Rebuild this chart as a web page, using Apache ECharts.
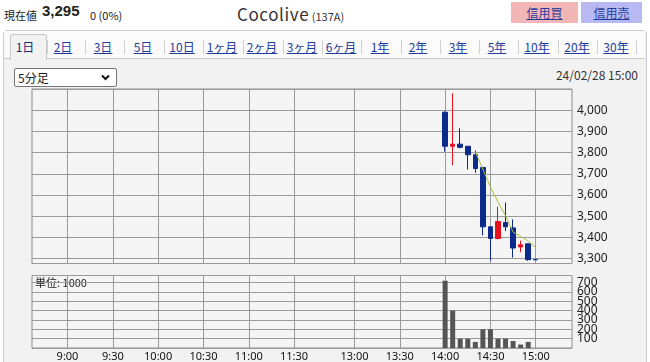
<!DOCTYPE html>
<html><head><meta charset="utf-8">
<script src="https://cdn.jsdelivr.net/npm/echarts@6/dist/echarts.min.js"></script>
<style>
html,body{margin:0;padding:0;width:650px;height:362px;overflow:hidden;background:#fff;font-family:"Noto Sans CJK JP","Noto Sans",sans-serif;color:#222;}
.a{position:absolute;white-space:nowrap;}
.btn{position:absolute;top:2px;height:21px;line-height:21px;text-align:center;font-size:12px;}
.btn span{color:#1f3c9c;text-decoration:underline;}
#panel{position:absolute;left:3px;top:30px;width:642px;height:340px;border:1px solid #c8ccd2;border-radius:4px;background:#f2f2f2;}
#tabrow{position:absolute;left:4px;top:31px;width:641px;height:27px;background:#fbfbfb;border-bottom:1px solid #c8c8c8;}
#act{position:absolute;left:10px;top:34px;width:35px;height:25px;background:#f2f2f2;border:1px solid #c8c8c8;border-bottom:none;border-radius:3px 3px 0 0;}
.tab{position:absolute;top:38px;font-size:12px;color:#1f3c9c;text-decoration:underline;transform:translateX(-50%);}
.sep{position:absolute;top:40px;width:1px;height:14px;background:#d0d0d0;}
#sel{position:absolute;left:14px;top:68px;width:101px;height:17px;background:#fff;border:1px solid #767676;border-radius:2px;font-size:12px;line-height:17px;}
#chart{position:absolute;left:0;top:0;width:650px;height:362px;}
</style></head>
<body>
<div class="a" style="left:4px;top:7px;font-size:11px;">現在値</div>
<div class="a" style="left:42px;top:2px;font-size:15px;font-weight:bold;font-family:'Liberation Sans',sans-serif;">3,295</div>
<div class="a" style="left:90px;top:7px;font-size:11px;">0 (0%)</div>
<div class="a" style="left:237px;top:1px;font-size:17px;color:#333;letter-spacing:0.6px;">Cocolive<span style="font-size:11px;letter-spacing:0;"> (137A)</span></div>
<div class="btn" style="left:511px;width:67px;background:#f3b6b6;"><span>信用買</span></div>
<div class="btn" style="left:581px;width:61px;background:#b8b8f2;"><span>信用売</span></div>
<div id="panel"></div>
<div id="tabrow"></div>
<div id="act"></div>
<div id="tabs"></div>
<div id="sel"><span style="position:absolute;left:3px;">5分足</span><svg style="position:absolute;right:6px;top:5px" width="9" height="7" viewBox="0 0 9 7"><path d="M1 1.5 L4.5 5 L8 1.5" stroke="#111" stroke-width="2" fill="none"/></svg></div>
<div class="a" style="right:12px;top:66px;font-size:12px;color:#333;">24/02/28 15:00</div>
<div id="chart"></div>
<script>
// ---- data ----
const tabLabels = ['1日','2日','3日','5日','10日','1ヶ月','2ヶ月','3ヶ月','6ヶ月','1年','2年','3年','5年','10年','20年','30年'];
const times  = ['14:00','14:05','14:10','14:15','14:20','14:25','14:30','14:35','14:40','14:45','14:50','14:55','15:00'];
const opens  = [3990, 3830, 3840, 3830, 3790, 3730, 3450, 3395, 3470, 3445, 3355, 3370, 3295];
const closes = [3830, 3840, 3825, 3790, 3725, 3450, 3395, 3475, 3450, 3350, 3365, 3295, 3295];
const lows   = [3805, 3740, 3820, 3720, 3705, 3410, 3290, 3390, 3430, 3305, 3330, 3290, 3295];
const highs  = [3995, 4080, 3915, 3830, 3810, 3730, 3450, 3545, 3565, 3485, 3385, 3370, 3295];
const volumes = [720, 400, 100, 100, 65, 200, 200, 100, 100, 75, 37, 65, 0];
const maTimes  = ['14:20','14:25','14:30','14:35','14:40','14:45','14:50','14:55','15:00'];
const maValues = [3804, 3722, 3638, 3567, 3502, 3425, 3405, 3383, 3352];
const axisTimes = ['9:00','9:30','10:00','10:30','11:00','11:30','13:00','13:30','14:00','14:30','15:00'];
const volUnit = '単位: 1000';

// tabs
const tabX = [25,63,103,143,182,222,262,302,341,380,418,458,497,537,577,616];
const sepX = [47,85,124,164,203,243,283,322,361,401,440,479,518,558,597,636];
const tabs = document.getElementById('tabs');
tabLabels.forEach((t,i)=>{
  const d=document.createElement('div'); d.className='tab'; d.textContent=t; d.style.left=tabX[i]+'px';
  if(i===0){d.style.textDecoration='none';d.style.color='#1a2a70';}
  tabs.appendChild(d);
});
sepX.forEach(x=>{const s=document.createElement('div');s.className='sep';s.style.left=x+'px';tabs.appendChild(s);});

// compressed 5-minute slot scale (lunch break removed)
function slot(t){
  const p=t.split(':').map(Number); const m=p[0]*60+p[1];
  return m<=690 ? (m-540)/5 : 38+(m-780)/5;
}
const tickSlots = axisTimes.map(slot);
const slotLabel = {}; axisTimes.forEach(t=>slotLabel[slot(t)]=t);
const comma = v => Math.round(v).toLocaleString('en-US');

const chart = echarts.init(document.getElementById('chart'), null, {renderer:'canvas'});
const gridCommon = {left:32, right:78, show:true, backgroundColor:'#f5f5f5', borderColor:'#8c8c8c', borderWidth:1};
const xCommon = {
  type:'value', min:-4.7, max:66.8,
  axisLine:{show:false},
  axisTick:{show:false, customValues:tickSlots},
  splitLine:{show:true, lineStyle:{color:'#9a9a9a', width:1}},
};
chart.setOption({
  animation:false,
  grid:[
    Object.assign({top:89, bottom:98.5}, gridCommon),
    Object.assign({top:275.5, bottom:13.5}, gridCommon)
  ],
  xAxis:[
    Object.assign({gridIndex:0, axisLabel:{show:false, customValues:tickSlots}}, xCommon),
    Object.assign({gridIndex:1, axisLabel:{show:true, customValues:tickSlots, margin:3, fontSize:11, color:'#111', fontFamily:'Noto Sans',
      formatter:v=>slotLabel[v]||''}}, xCommon)
  ],
  yAxis:[
    {gridIndex:0, type:'value', position:'right', min:3277, max:4100, splitNumber:8,
     axisLine:{show:false}, axisTick:{show:true, length:3, lineStyle:{color:'#8c8c8c'}},
     axisLabel:{margin:5, fontSize:12, color:'#222', fontFamily:'Noto Sans', showMinLabel:false, showMaxLabel:false, formatter:comma},
     splitLine:{show:true, lineStyle:{color:'#9a9a9a', width:1}}},
    {gridIndex:1, type:'value', position:'right', min:0, max:776, interval:100,
     axisLine:{show:false}, axisTick:{show:true, length:3, lineStyle:{color:'#8c8c8c'}},
     axisLabel:{margin:5, fontSize:12, color:'#222', fontFamily:'Noto Sans', showMinLabel:false, showMaxLabel:false, lineHeight:10},
     splitLine:{show:true, lineStyle:{color:'#9a9a9a', width:1}}}
  ],
  graphic:[{type:'text', left:35, top:277, style:{text:volUnit, fontSize:11, fill:'#222', fontFamily:'Noto Sans CJK JP'}}],
  series:[
    {type:'candlestick', xAxisIndex:0, yAxisIndex:0, barWidth:5,
     encode:{x:0, y:[1,2,3,4]},
     data: times.map((t,i)=>[slot(t), opens[i], closes[i], lows[i], highs[i]]),
     itemStyle:{color:'#e8101e', color0:'#0c2a8c', borderColor:'#e8101e', borderColor0:'#0c2a8c', borderColorDoji:'#0c2a8c', borderWidth:1}},
    {type:'line', xAxisIndex:0, yAxisIndex:0, symbol:'none',
     data: maTimes.map((t,i)=>[slot(t), maValues[i]]),
     lineStyle:{color:'#a9c23c', width:1}},
    {type:'bar', xAxisIndex:1, yAxisIndex:1, barWidth:5,
     data: times.map((t,i)=>[slot(t), volumes[i]]),
     itemStyle:{color:'#555555'}}
  ]
});
</script>
</body></html>
